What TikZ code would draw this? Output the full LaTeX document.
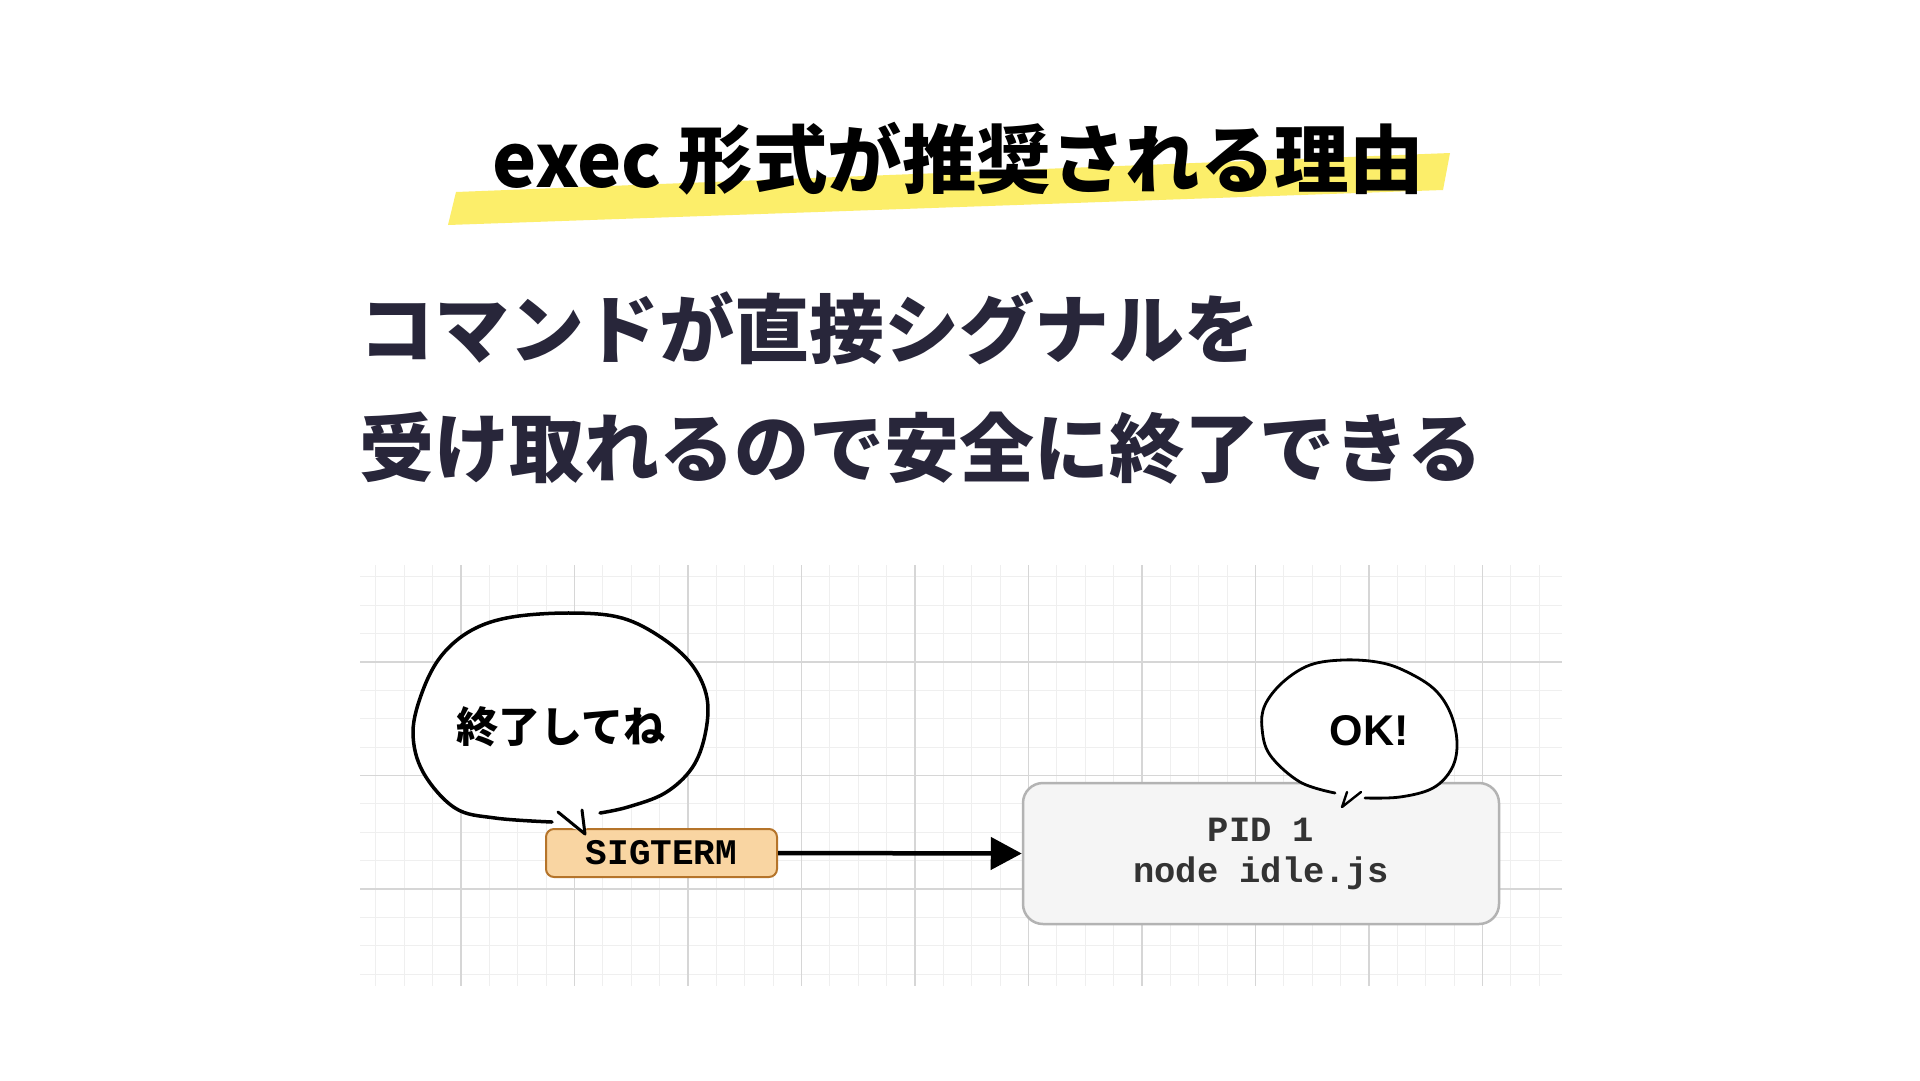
\documentclass[tikz,border=0pt]{standalone}
\usepackage{fontspec}
\usetikzlibrary{arrows.meta}
\newfontfamily\cjkfont{Noto Sans CJK JP}
\newfontfamily\codefont{Liberation Mono}
\newfontfamily\okfont{Liberation Sans}
\definecolor{titleink}{HTML}{000000}
\definecolor{subink}{HTML}{28263A}
\definecolor{hilite}{HTML}{FCEE6A}
\definecolor{gridminor}{HTML}{EFEFEF}
\definecolor{gridmajor}{HTML}{D6D6D6}
\definecolor{sigfill}{HTML}{F9D5A2}
\definecolor{sigline}{HTML}{B5742A}
\definecolor{pidfill}{HTML}{F5F5F5}
\definecolor{pidline}{HTML}{B3B3B3}
\definecolor{pidink}{HTML}{333333}
\tikzset{
  sigbox/.style={draw=sigline, fill=sigfill, line width=2pt, rounded corners=8pt,
    minimum width=231pt, minimum height=48pt, inner sep=0pt,
    font=\codefont\bfseries\fontsize{36}{40}\selectfont, text=black},
  pidbox/.style={draw=pidline, fill=pidfill, line width=2.5pt, rounded corners=20pt,
    minimum width=476pt, minimum height=141pt, inner sep=0pt, align=center,
    font=\codefont\bfseries\fontsize{35.5}{41}\selectfont, text=pidink},
  bubbleline/.style={draw=black, line width=3.5pt, line cap=round, line join=round},
  bubbletext/.style={inner sep=0pt, text=black},
  subline/.style={anchor=west, inner sep=0pt, text=subink,
    font=\cjkfont\bfseries\fontsize{75}{80}\selectfont},
  flowarrow/.style={line width=4.5pt, -{Triangle[length=31pt,width=32pt]}}
}
\begin{document}
\begin{tikzpicture}[x=1pt,y=-1pt]
\useasboundingbox[fill=white] (0,0) rectangle (1920,1080);

% title highlight and title
\fill[hilite] (448,225) -- (456,192) -- (1450,153) -- (1443,190) -- cycle;
\node[inner sep=0pt, text=titleink, font=\cjkfont\bfseries\fontsize{74.5}{80}\selectfont] (title) at (958,159) {exec 形式が推奨される理由};

% subtitle
\node[subline] (sub1) at (359,328) {コマンドが直接シグナルを};
\node[subline] (sub2) at (359,448) {受け取れるので安全に終了できる};

% grid
\begin{scope}
\clip (360,565) rectangle (1562,986);
\foreach \i in {-3,...,38} {
  \pgfmathsetmacro\xx{461+28.375*\i}
  \draw[gridminor, line width=1.2pt] (\xx,565) -- (\xx,986);
}
\foreach \j in {-3,...,11} {
  \pgfmathsetmacro\yy{662+28.375*\j}
  \draw[gridminor, line width=1.2pt] (360,\yy) -- (1562,\yy);
}
\foreach \i in {0,...,9} {
  \pgfmathsetmacro\xx{461+113.5*\i}
  \draw[gridmajor, line width=1.2pt] (\xx,565) -- (\xx,986);
}
\foreach \j in {0,1,2} {
  \pgfmathsetmacro\yy{662+113.5*\j}
  \draw[gridmajor, line width=1.2pt] (360,\yy) -- (1562,\yy);
}
\end{scope}

% nodes
\node[sigbox] (sig) at (661.5,853) {SIGTERM};
\node[pidbox] (pid) at (1261,853.5) {\raisebox{0pt}[0pt][0pt]{}PID 1\\node idle.js};
\draw[flowarrow] (sig.east) -- (pid.west);

% bubble 1
\fill[white] plot[smooth cycle, tension=0.6] coordinates {(600,813) (628,807) (665,793) (692,768) (705,735) (707,698) (692,665) (662,638) (622,618) (572,613) (512,617) (472,630) (442,655) (423,690) (413,732) (423,772) (455,808) (495,818) (552,822) (583,830)};
\draw[bubbleline] plot[smooth, tension=0.6] coordinates {(600,813) (628,807) (665,793) (692,768) (705,735) (707,698) (692,665) (662,638) (622,618) (572,613) (512,617) (472,630) (442,655) (423,690) (413,732) (423,772) (455,808) (495,818) (552,822)};
\draw[bubbleline, line width=3pt] (558,812) -- (585,834) -- (582,810);
\node[bubbletext, font=\cjkfont\bfseries\fontsize{42}{46}\selectfont] (msg1) at (561,727) {終了してね};

% bubble 2
\fill[white] plot[smooth cycle, tension=0.6] coordinates {(1365,798) (1400,797) (1433,788) (1452,768) (1457,742) (1450,712) (1433,688) (1403,670) (1377,662) (1343,660) (1310,665) (1283,682) (1265,705) (1262,728) (1270,755) (1300,782) (1335,793) (1350,800)};
\draw[bubbleline, line width=2.8pt] plot[smooth, tension=0.6] coordinates {(1365,798) (1400,797) (1433,788) (1452,768) (1457,742) (1450,712) (1433,688) (1403,670) (1377,662) (1343,660) (1310,665) (1283,682) (1265,705) (1262,728) (1270,755) (1300,782) (1335,793)};
\draw[bubbleline, line width=2.4pt] (1347,792) -- (1342,807) -- (1361,792);
\node[bubbletext, font=\okfont\bfseries\fontsize{43}{46}\selectfont] (msg2) at (1369,731) {OK!};
\end{tikzpicture}
\end{document}
